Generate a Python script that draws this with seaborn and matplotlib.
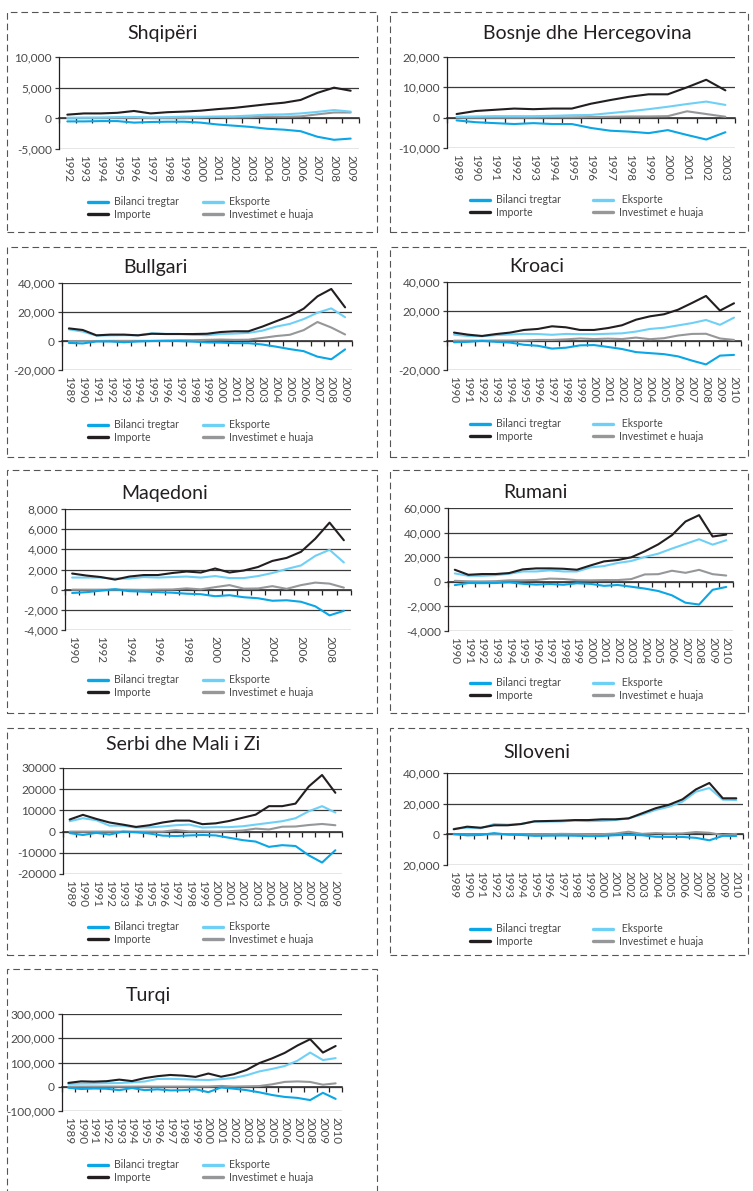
import numpy as np
import pandas as pd
import matplotlib
matplotlib.use('Agg')
import matplotlib.pyplot as plt
from matplotlib.patches import Rectangle
from matplotlib.lines import Line2D
import seaborn as sns

# ---- data ----
alb_years = list(range(1992, 2010))
alb_bil = [-500, -500, -450, -450, -700, -600, -550, -550, -700, -1000, -1200, -1400, -1700, -1850, -2100, -3000, -3500, -3300]
alb_eks = [100, 120, 140, 200, 230, 160, 200, 270, 260, 300, 330, 450, 600, 650, 800, 1050, 1350, 1100]
alb_imp = [600, 800, 800, 900, 1200, 800, 1000, 1100, 1250, 1500, 1700, 2000, 2300, 2550, 3000, 4150, 5000, 4500]
alb_inv = [20, 60, 50, 70, 90, 50, 40, 40, 140, 200, 130, 180, 300, 260, 320, 650, 950, 950]
alb_yticks = [-5000, 0, 5000, 10000]
alb_ylabels = ['-5,000', '0', '5,000', '10,000']

bih_years = list(range(1989, 2004))
bih_bil = [-900, -1500, -1800, -2100, -1800, -2100, -2100, -3400, -4300, -4600, -5100, -4100, -5700, -7200, -4800]
bih_eks = [300, 400, 500, 500, 500, 600, 800, 900, 1500, 2100, 2800, 3600, 4500, 5300, 4200]
bih_imp = [1200, 2200, 2600, 3000, 2800, 3000, 3000, 4600, 5800, 6900, 7700, 7700, 10000, 12500, 9000]
bih_inv = [0, 0, 0, 0, 0, 100, 100, 200, 300, 400, 400, 500, 2100, 1200, 300]
bih_yticks = [-10000, 0, 10000, 20000]
bih_ylabels = ['-10,000', '0', '10,000', '20,000']

bg_years = list(range(1989, 2010))
bg_bil = [-1300, -1700, -300, -300, -900, -300, 0, 200, 0, -400, -1000, -1100, -1500, -1500, -2400, -3900, -5600, -7000, -10800, -12600, -5800]
bg_eks = [8000, 6500, 3700, 3900, 4000, 4000, 5300, 4900, 4900, 4300, 4000, 4800, 5100, 5600, 7100, 9900, 11800, 15100, 19500, 22500, 16400]
bg_imp = [8700, 7600, 3900, 4400, 4400, 3900, 5000, 4800, 4800, 4800, 5000, 6200, 6700, 6700, 9900, 13600, 17200, 22300, 30800, 35900, 23200]
bg_inv = [0, 0, 0, 100, 100, 100, 100, 100, 500, 500, 800, 1000, 800, 900, 2100, 3400, 4300, 7500, 13100, 9300, 4500]
bg_yticks = [-20000, 0, 20000, 40000]
bg_ylabels = ['-20,000', '0', '20,000', '40,000']

hr_years = list(range(1990, 2011))
hr_bil = [-1100, -800, -100, -800, -1300, -2800, -3500, -5400, -4800, -3200, -3000, -4300, -5700, -7800, -8500, -9200, -10700, -13600, -16200, -10200, -9700]
hr_eks = [4100, 3200, 3000, 3800, 4200, 4600, 4500, 4000, 4600, 4400, 4400, 4700, 5000, 6200, 8000, 8800, 10400, 12000, 14100, 10800, 15700]
hr_imp = [5500, 4100, 3200, 4500, 5500, 7300, 8000, 9800, 9100, 7300, 7300, 8600, 10500, 14300, 16600, 18000, 21100, 25700, 30500, 20500, 25500]
hr_inv = [0, 0, 0, 100, 100, 100, 500, 500, 900, 1500, 1100, 1400, 1100, 2100, 1000, 1700, 3500, 4600, 4700, 1500, 500]
hr_yticks = [-20000, 0, 20000, 40000]
hr_ylabels = ['-20,000', '', '20,000', '40,000']

mk_years = list(range(1990, 2010))
mk_bil = [-330, -250, -100, 50, -150, -200, -250, -300, -400, -450, -650, -550, -750, -850, -1100, -1050, -1200, -1650, -2550, -2100]
mk_eks = [1200, 1200, 1200, 1100, 1100, 1250, 1200, 1250, 1300, 1200, 1350, 1150, 1150, 1350, 1650, 2050, 2400, 3350, 3950, 2700]
mk_imp = [1600, 1400, 1250, 1000, 1300, 1450, 1450, 1650, 1800, 1700, 2100, 1700, 1900, 2250, 2850, 3150, 3750, 5050, 6650, 4900]
mk_inv = [0, 0, 0, 0, 0, -20, 10, 20, 130, 30, 250, 450, 100, 120, 350, 80, 450, 700, 600, 200]
mk_yticks = [-4000, -2000, 0, 2000, 4000, 6000, 8000]
mk_ylabels = ['-4,000', '-2,000', '0', '2,000', '4,000', '6,000', '8,000']

ro_years = list(range(1990, 2011))
ro_bil = [-2700, -1000, -1100, -1000, -400, -1600, -2300, -1800, -2400, -1200, -1700, -3300, -2600, -4000, -5500, -7500, -11000, -17000, -18500, -6500, -4200]
ro_eks = [6800, 4900, 4900, 5400, 6500, 8400, 8400, 9300, 8400, 8400, 11700, 12800, 15300, 16900, 20200, 22900, 27000, 30800, 34600, 30200, 33800]
ro_imp = [9800, 5700, 6300, 6300, 7100, 10100, 10900, 10900, 10600, 9800, 13300, 16600, 17700, 19900, 24800, 30500, 37900, 49000, 54200, 36800, 38400]
ro_inv = [800, 400, 300, 500, 1200, 1200, 1500, 2600, 2300, 1300, 1200, 1400, 1400, 2200, 6000, 6200, 9000, 7300, 9700, 6200, 5100]
ro_yticks = [-40000, -20000, 0, 20000, 40000, 60000]
ro_ylabels = ['-4,000', '-2,000', '0', '20,000', '40,000', '60,000']

rs_years = list(range(1989, 2010))
rs_bil = [-700, -1600, -600, -1400, 0, -300, -900, -1900, -2100, -1800, -1600, -1800, -2900, -4000, -4700, -7200, -6400, -6800, -11200, -14600, -8800]
rs_eks = [4900, 6300, 5400, 2800, 2800, 1900, 2000, 2400, 3000, 3300, 1900, 2100, 2100, 2500, 3300, 4100, 4900, 6300, 9600, 12000, 9000]
rs_imp = [5700, 7900, 6000, 4300, 3300, 2200, 3000, 4300, 5200, 5200, 3500, 3900, 5000, 6500, 8000, 12000, 12000, 13200, 21300, 26700, 18300]
rs_inv = [0, 0, 0, 0, 0, 0, 0, 0, 700, 100, 100, 0, 200, 500, 1400, 1000, 2300, 2400, 3100, 3600, 3000]
rs_yticks = [-20000, -10000, 0, 10000, 20000, 30000]
rs_ylabels = ['-20000', '-10000', '0', '10000', '20000', '30000']

si_years = list(range(1989, 2011))
si_bil = [300, -700, -400, 800, -200, -400, -1000, -900, -800, -900, -1200, -1100, -600, -300, -600, -1600, -1700, -1700, -2300, -3900, -1000, -1100]
si_eks = [3600, 4300, 3900, 6700, 6300, 6800, 8300, 8300, 8400, 9000, 8600, 8800, 9300, 10400, 12900, 15900, 18000, 21300, 27800, 30200, 22600, 22400]
si_imp = [3300, 5000, 4300, 5900, 5900, 6700, 8500, 8700, 8900, 9300, 9300, 9800, 9800, 10400, 13700, 17000, 19300, 22800, 29300, 33500, 23500, 23500]
si_inv = [0, 0, 0, 100, 100, 100, 100, 100, 300, 200, 100, 100, 500, 1700, 300, 800, 500, 600, 1500, 1000, -500, 300]
si_yticks = [-20000, 0, 20000, 40000]
si_ylabels = ['20,000', '0', '20,000', '40,000']

tr_years = list(range(1989, 2011))
tr_bil = [-4200, -9300, -7300, -8200, -14100, -5200, -14100, -10600, -15000, -14200, -10400, -22400, -3000, -8000, -14000, -23000, -34000, -42000, -46000, -55000, -25000, -50000]
tr_eks = [11600, 13000, 13600, 14700, 15300, 18100, 21600, 32100, 32600, 31000, 28900, 27800, 31300, 36100, 47300, 63200, 73500, 85500, 107300, 141000, 110000, 118000]
tr_imp = [15800, 22300, 21000, 22900, 29400, 23300, 35700, 43600, 48600, 45900, 40700, 54500, 41400, 51600, 69300, 97500, 116800, 139600, 170100, 196000, 140900, 168000]
tr_inv = [700, 700, 800, 800, 600, 600, 900, 700, 800, 900, 800, 1000, 3300, 1000, 1800, 2800, 10000, 20000, 22000, 19800, 8400, 14000]
tr_yticks = [-100000, 0, 100000, 200000, 300000]
tr_ylabels = ['-100,000', '0', '100,000', '200,000', '300,000']

SERIES = ['Bilanci tregtar', 'Eksporte', 'Importe', 'Investimet e huaja']
COLORS = {'Bilanci tregtar': '#0aa6e6', 'Eksporte': '#6fd0f6',
          'Importe': '#231f20', 'Investimet e huaja': '#959799'}
DRAW_ORDER = ['Investimet e huaja', 'Eksporte', 'Bilanci tregtar', 'Importe']

W, H = 753, 1191
sns.set_style('white')
plt.rcParams['font.family'] = ['Lato', 'DejaVu Sans']

fig = plt.figure(figsize=(W / 100, H / 100), dpi=100)


def fx(px):
    return px / W


def fy(py):
    return 1 - py / H


def draw_panel(title, years, bil, eks, imp, inv, yticks, ylabels,
               box, title_xy, leg_xy, step=1, eks_label='Eksporte'):
    l, t, r, b = box
    ax = fig.add_axes([fx(l), fy(b), fx(r) - fx(l), fy(t) - fy(b)])
    ax.set_facecolor('none')

    df = pd.DataFrame({'year': years, SERIES[0]: bil, SERIES[1]: eks,
                       SERIES[2]: imp, SERIES[3]: inv})
    long = df.melt(id_vars='year', var_name='series', value_name='value')
    sns.lineplot(data=long, x='year', y='value', hue='series',
                 hue_order=DRAW_ORDER, palette=COLORS, linewidth=1.5,
                 legend=False, errorbar=None, ax=ax)

    ymin, ymax = yticks[0], yticks[-1]
    ax.set_xlim(years[0] - 0.5, years[-1] + 0.5)
    ax.set_ylim(ymin, ymax)
    ax.set_yticks(yticks)
    ax.set_yticklabels(ylabels)
    ax.yaxis.grid(True, color='#3a3a3a', linewidth=0.9)
    ax.xaxis.grid(False)
    ax.set_axisbelow(True)
    for s in ['top', 'right', 'bottom']:
        ax.spines[s].set_visible(False)
    ax.spines['left'].set_color('#231f20')
    ax.spines['left'].set_linewidth(0.9)
    ax.tick_params(axis='y', left=True, length=3, width=0.9, color='#3a3a3a',
                   labelsize=8.6, labelcolor='#4a4a4a', pad=2)

    xt = years[::step]
    ax.set_xticks(xt)
    ax.set_xticklabels([str(y) for y in xt], rotation=-90)
    ax.tick_params(axis='x', bottom=True, length=0, labelsize=8.4,
                   labelcolor='#4a4a4a', pad=4)
    ax.set_xlabel('')
    ax.set_ylabel('')

    # zero axis with category boundary ticks
    zero_frac = (0 - ymin) / (ymax - ymin)
    sec = ax.secondary_xaxis(zero_frac)
    sec.set_xticks(np.arange(years[0] - 0.5, years[-1] + 1, 1.0))
    sec.tick_params(axis='x', direction='out', length=3.5, width=0.9,
                    color='#231f20', labelbottom=False)
    sec.spines['bottom'].set_color('#231f20')
    sec.spines['bottom'].set_linewidth(1.1)

    fig.text(fx(title_xy[0]), fy(title_xy[1]), title, ha='center', va='center',
             fontsize=14, color='#231f20')

    # legend: two columns placed separately
    x1, x2, ymid = leg_xy
    h = {s: Line2D([], [], color=COLORS[s], linewidth=2.4) for s in SERIES}
    common = dict(loc='center left', frameon=False, fontsize=7.6,
                  labelcolor='#4a4a4a', handlelength=1.9, handletextpad=0.55,
                  labelspacing=0.15, borderpad=0, borderaxespad=0)
    fig.legend([h[SERIES[0]], h[SERIES[2]]], [SERIES[0], SERIES[2]],
               bbox_to_anchor=(fx(x1), fy(ymid)), **common)
    fig.legend([h[SERIES[1]], h[SERIES[3]]], [eks_label, SERIES[3]],
               bbox_to_anchor=(fx(x2), fy(ymid)), **common)
    return ax


draw_panel('Shqipëri', alb_years, alb_bil, alb_eks, alb_imp, alb_inv,
           alb_yticks, alb_ylabels, (59, 57, 359, 149), (163, 33), (88, 203, 208))
draw_panel('Bosnje dhe Hercegovina', bih_years, bih_bil, bih_eks, bih_imp, bih_inv,
           bih_yticks, bih_ylabels, (447, 57, 735, 148), (587, 33), (470, 593, 206),
           eks_label=' Eksporte')
draw_panel('Bullgari', bg_years, bg_bil, bg_eks, bg_imp, bg_inv,
           bg_yticks, bg_ylabels, (62, 283, 352, 370), (155, 267), (88, 203, 431))
draw_panel('Kroaci', hr_years, hr_bil, hr_eks, hr_imp, hr_inv,
           hr_yticks, hr_ylabels, (447, 282, 741, 370), (537, 267), (470, 593, 430),
           eks_label=' Eksporte')
draw_panel('Maqedoni', mk_years, mk_bil, mk_eks, mk_imp, mk_inv,
           mk_yticks, mk_ylabels, (65, 509, 351, 630), (165, 493), (88, 203, 686), step=2)
draw_panel('Rumani', ro_years, ro_bil, ro_eks, ro_imp, ro_inv,
           ro_yticks, ro_ylabels, (448, 508, 733, 631), (535, 493), (470, 593, 689),
           eks_label=' Eksporte')
draw_panel('Serbi dhe Mali i Zi', rs_years, rs_bil, rs_eks, rs_imp, rs_inv,
           rs_yticks, rs_ylabels, (63, 768, 342, 874), (183, 745), (88, 203, 933))
draw_panel('Slloveni', si_years, si_bil, si_eks, si_imp, si_inv,
           si_yticks, si_ylabels, (447, 773, 743, 865), (537, 753), (470, 593, 935),
           eks_label=' Eksporte')
draw_panel('Turqi', tr_years, tr_bil, tr_eks, tr_imp, tr_inv,
           tr_yticks, tr_ylabels, (62, 1014, 342, 1111), (148, 995), (88, 203, 1171))

# dashed panel frames
rows = [(12, 232), (247, 457), (470, 713), (728, 955)]
for y0, y1 in rows:
    for x0, x1 in [(7, 377), (390, 748)]:
        fig.add_artist(Rectangle((fx(x0), fy(y1)), fx(x1) - fx(x0), fy(y0) - fy(y1),
                                 transform=fig.transFigure, fill=False,
                                 linestyle=(0, (6, 3.5)), linewidth=0.8,
                                 edgecolor='#555555'))
fig.add_artist(Rectangle((fx(7), fy(1215)), fx(377) - fx(7), fy(969) - fy(1215),
                         transform=fig.transFigure, fill=False,
                         linestyle=(0, (6, 3.5)), linewidth=0.8,
                         edgecolor='#555555'))

fig.savefig('out.png', dpi=100)
